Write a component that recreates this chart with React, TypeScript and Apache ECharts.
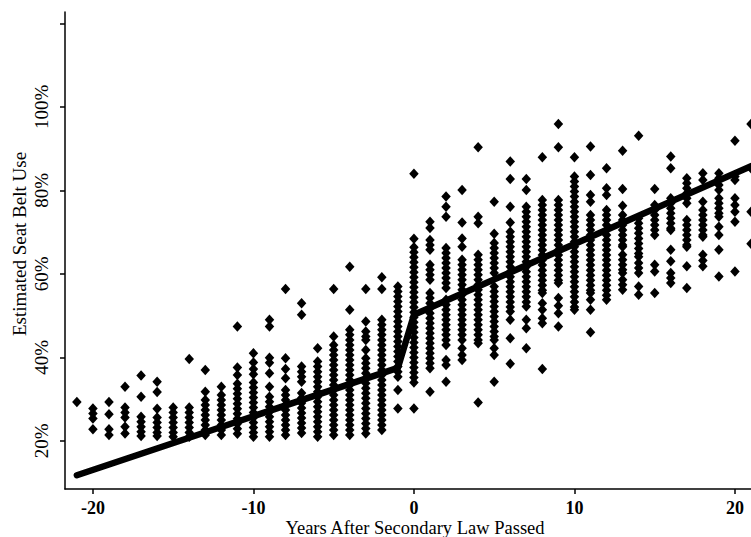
import React, { useEffect, useRef } from "react";
import * as echarts from "echarts";

const years = [-21, -20, -19, -18, -17, -16, -15, -14, -13, -12, -11, -10, -9, -8, -7, -6, -5, -4, -3, -2, -1, 0, 1, 2, 3, 4, 5, 6, 7, 8, 9, 10, 11, 12, 13, 14, 15, 16, 17, 18, 19, 20, 21];

const beltUse: number[][] = [
  [29.3],
  [27.8, 26.6, 25.4, 22.8],
  [29.3, 26.4, 22.8, 21.4],
  [33.0, 28.0, 26.8, 25.6, 23.4, 21.8],
  [35.7, 30.6, 25.8, 24.6, 23.4, 22.2, 21.2],
  [34.2, 31.7, 27.7, 25.6, 24.4, 23.2, 22.0, 21.2],
  [28.0, 26.8, 25.6, 24.4, 23.2, 22.0, 21.0],
  [39.6, 28.0, 26.8, 25.6, 24.4, 23.2, 22.0, 21.0],
  [37.0, 31.8, 29.8, 28.6, 27.4, 26.2, 25.0, 23.8, 22.6, 21.4],
  [33.0, 31.0, 29.8, 28.6, 27.4, 26.2, 25.0, 23.8, 22.6, 21.4],
  [47.4, 37.6, 35.8, 33.7, 32.5, 31.3, 30.1, 28.9, 27.7, 26.5, 25.3, 24.1, 22.9, 21.7],
  [41.0, 38.8, 37.2, 36.0, 34.0, 32.8, 31.6, 30.4, 29.2, 28.0, 26.8, 25.6, 24.4, 23.2, 22.0, 21.0],
  [49.0, 47.4, 39.9, 38.7, 36.2, 33.0, 30.6, 29.4, 28.2, 27.0, 25.8, 24.6, 23.4, 22.2, 21.0],
  [56.4, 39.8, 37.2, 35.0, 32.2, 31.0, 29.8, 28.6, 27.4, 26.2, 25.0, 23.8, 22.6, 21.4],
  [53.0, 50.2, 37.8, 36.6, 35.4, 34.2, 31.5, 30.3, 29.1, 27.9, 26.7, 25.5, 24.3, 23.1, 21.9],
  [42.2, 39.0, 37.8, 36.6, 35.4, 34.2, 33.0, 31.8, 30.6, 29.4, 28.2, 27.0, 25.8, 24.6, 23.4, 22.2, 21.0],
  [56.4, 45.0, 43.0, 41.8, 40.6, 39.4, 38.2, 37.0, 35.8, 34.6, 33.4, 32.2, 31.0, 29.8, 28.6, 27.4, 26.2, 25.0, 23.8, 22.6, 21.4],
  [61.7, 51.4, 46.6, 45.4, 44.2, 43.0, 41.8, 40.6, 39.4, 38.2, 37.0, 35.8, 34.6, 33.4, 32.2, 31.0, 29.8, 28.6, 27.4, 26.2, 25.0, 23.8, 22.6, 21.4],
  [56.4, 48.6, 46.2, 45.0, 44.2, 41.8, 39.8, 38.6, 37.4, 36.2, 35.0, 33.8, 32.6, 31.4, 30.2, 29.0, 27.8, 26.6, 25.4, 24.2, 23.0, 21.8],
  [59.2, 56.4, 49.0, 47.8, 46.6, 45.4, 44.2, 43.0, 41.8, 40.6, 39.4, 38.2, 37.0, 35.8, 34.6, 33.4, 32.2, 31.0, 29.8, 28.6, 27.4, 26.2, 25.0, 23.8, 22.6],
  [57.0, 55.8, 54.6, 53.4, 52.2, 51.0, 49.8, 48.6, 47.4, 46.2, 45.0, 43.8, 42.6, 41.4, 40.2, 39.0, 37.8, 36.6, 35.4, 32.2, 27.8],
  [84.0, 68.4, 66.4, 65.2, 64.0, 62.8, 61.6, 60.4, 59.2, 58.0, 56.8, 55.6, 54.4, 53.2, 52.0, 50.8, 49.6, 48.4, 47.2, 46.0, 44.8, 43.6, 42.4, 41.2, 40.0, 38.8, 37.6, 36.4, 35.2, 34.0, 27.8],
  [72.5, 71.0, 68.1, 66.9, 65.8, 62.2, 61.0, 59.8, 58.6, 55.4, 54.2, 53.0, 51.8, 50.6, 49.4, 48.2, 47.0, 45.8, 44.6, 43.4, 42.2, 41.0, 39.8, 38.6, 37.4, 31.8],
  [78.5, 76.1, 73.7, 66.2, 65.0, 63.8, 62.6, 61.4, 60.2, 59.0, 57.8, 56.6, 53.8, 52.6, 51.4, 50.2, 49.0, 47.8, 46.6, 45.4, 44.2, 43.0, 39.4, 38.2, 34.2],
  [80.1, 72.3, 68.5, 66.5, 63.4, 62.2, 61.0, 59.8, 58.6, 57.4, 56.2, 55.0, 53.8, 52.6, 51.4, 50.2, 49.0, 47.8, 46.6, 45.4, 44.2, 42.2, 40.6, 39.4],
  [90.3, 73.7, 72.1, 64.6, 63.4, 62.2, 61.0, 59.8, 58.6, 57.4, 56.2, 55.0, 53.8, 52.6, 51.4, 50.2, 49.0, 47.8, 46.6, 45.4, 44.2, 43.4, 29.2],
  [77.3, 69.6, 67.4, 66.2, 65.0, 63.8, 62.6, 61.4, 60.2, 57.0, 55.8, 54.6, 53.4, 52.2, 51.0, 49.8, 48.6, 47.4, 46.2, 45.0, 44.2, 42.2, 40.6, 34.2],
  [86.9, 82.7, 76.1, 72.3, 70.1, 68.9, 67.7, 66.5, 65.3, 64.1, 62.9, 61.7, 60.5, 59.3, 58.1, 56.9, 55.7, 54.5, 53.3, 52.1, 51.0, 49.0, 44.6, 38.5],
  [82.7, 80.1, 76.1, 74.9, 73.7, 72.5, 71.3, 70.1, 68.9, 67.7, 66.5, 65.3, 64.1, 62.9, 61.7, 60.5, 59.3, 58.1, 56.9, 55.7, 54.5, 53.3, 52.2, 49.0, 47.0, 42.2],
  [87.9, 77.7, 76.5, 75.3, 74.1, 72.9, 71.7, 70.5, 69.3, 68.1, 66.9, 65.7, 64.5, 63.3, 62.1, 60.9, 59.7, 58.5, 57.3, 56.1, 55.4, 53.0, 51.4, 49.4, 48.2, 37.2],
  [95.9, 90.3, 77.7, 76.5, 75.3, 74.1, 72.9, 71.7, 70.5, 69.3, 68.1, 66.9, 65.7, 64.5, 63.3, 62.1, 60.9, 59.7, 58.5, 57.8, 54.2, 52.4, 50.6, 47.4],
  [87.9, 83.3, 82.1, 80.9, 79.7, 78.5, 77.3, 76.1, 74.9, 73.7, 72.5, 71.3, 70.1, 68.9, 67.7, 66.5, 65.3, 64.1, 62.9, 61.7, 60.5, 59.3, 58.1, 56.9, 55.7, 54.5, 53.3, 52.1, 51.4],
  [90.5, 83.7, 78.9, 77.3, 74.1, 72.9, 71.7, 70.5, 69.3, 68.1, 66.9, 65.7, 64.5, 63.3, 62.1, 60.9, 59.7, 58.5, 57.3, 56.1, 55.4, 53.8, 51.4, 46.0],
  [85.3, 80.5, 78.9, 75.3, 74.1, 72.9, 71.7, 70.5, 69.3, 68.1, 66.9, 65.7, 64.5, 63.3, 62.1, 60.9, 59.7, 58.5, 57.3, 56.1, 54.9, 53.8],
  [89.5, 80.3, 76.3, 74.1, 72.9, 71.7, 70.5, 69.3, 68.1, 66.9, 66.5, 64.6, 63.4, 62.2, 61.0, 60.2, 58.6, 57.4, 56.2],
  [93.1, 73.3, 72.1, 70.9, 69.7, 68.5, 67.3, 66.1, 64.9, 64.1, 62.6, 61.4, 60.2, 57.0, 55.0],
  [80.3, 76.5, 75.3, 74.1, 72.9, 71.7, 70.5, 69.3, 62.2, 60.6, 55.4],
  [88.1, 85.3, 78.1, 76.9, 75.7, 74.5, 73.3, 72.1, 70.9, 70.5, 65.8, 63.0, 60.2, 59.0, 57.8],
  [82.9, 81.7, 80.5, 79.3, 78.1, 76.9, 72.9, 71.7, 70.5, 69.3, 68.1, 66.9, 66.5, 61.8, 56.6],
  [84.1, 82.5, 77.3, 75.3, 74.1, 72.9, 71.7, 70.5, 69.3, 68.9, 64.6, 63.2, 61.8],
  [84.1, 82.9, 81.3, 80.1, 78.1, 76.9, 75.7, 74.5, 73.7, 71.3, 69.3, 65.8, 59.4],
  [91.9, 83.3, 82.5, 78.1, 76.5, 74.9, 72.5, 60.6],
  [95.9, 85.3, 74.9, 67.2],
];

const fitX = [-21, -1, 0, 21];
const fitY = [11.8, 37.5, 50.2, 85.8];

const xTicks = [-20, -10, 0, 10, 20];
const yTicks = [20, 40, 60, 80, 100, 120];
const yLabels = [20, 40, 60, 80, 100];

const xTitle = "Years After Secondary Law Passed";
const yTitle = "Estimated Seat Belt Use";

const FONT = "'Liberation Serif', 'Times New Roman', serif";

export default function App() {
  const ref = useRef<HTMLDivElement>(null);
  useEffect(() => {
    if (!ref.current) return;
    const chart = echarts.init(ref.current, undefined, { renderer: "svg" });
    const scatterData: number[][] = [];
    years.forEach((yr, i) => {
      beltUse[i].forEach((v) => scatterData.push([yr, v]));
    });
    const lineData = fitX.map((x, i) => [x, fitY[i]]);
    chart.setOption({
      animation: false,
      backgroundColor: "#ffffff",
      grid: { left: 65, top: 12, right: 0, bottom: 48, containLabel: false },
      xAxis: {
        type: "value",
        min: -21.74,
        max: 21.0,
        splitLine: { show: false },
        axisLine: { show: true, onZero: false, lineStyle: { color: "#000", width: 1.5 } },
        axisTick: { show: true, length: 5, customValues: xTicks, lineStyle: { color: "#000", width: 1.5 } },
        axisLabel: {
          customValues: xTicks,
          color: "#000",
          fontFamily: FONT,
          fontSize: 18,
          fontWeight: "bold",
          margin: 10,
        },
      },
      yAxis: {
        type: "value",
        min: 8.5,
        max: 122.7,
        splitLine: { show: false },
        axisLine: { show: true, onZero: false, lineStyle: { color: "#000", width: 1.5 } },
        axisTick: { show: true, length: 5, customValues: yTicks, lineStyle: { color: "#000", width: 1.5 } },
        axisLabel: {
          customValues: yLabels,
          rotate: 90,
          color: "#000",
          fontFamily: FONT,
          fontSize: 19,
          margin: 14,
          formatter: (v: number) => `${v}%`,
        },
      },
      graphic: [
        {
          type: "text",
          x: 19,
          y: 244,
          rotation: Math.PI / 2,
          style: {
            text: yTitle,
            fill: "#000",
            font: `19px ${FONT}`,
            textAlign: "center",
            textVerticalAlign: "middle",
          },
        },
        {
          type: "text",
          x: 415,
          y: 537,
          style: {
            text: xTitle,
            fill: "#000",
            font: `18.5px ${FONT}`,
            textAlign: "center",
            textVerticalAlign: "bottom",
          },
        },
      ],
      series: [
        {
          type: "scatter",
          data: scatterData,
          symbol: "diamond",
          symbolSize: [9.5, 10.5],
          itemStyle: { color: "#000", opacity: 1 },
          clip: false,
          z: 2,
        },
        {
          type: "line",
          data: lineData,
          symbol: "none",
          lineStyle: { color: "#000", width: 6.5, cap: "round", join: "round" },
          z: 3,
        },
      ],
    });
    return () => chart.dispose();
  }, []);
  return <div ref={ref} style={{ position: "absolute", left: 0, top: 0, width: 751, height: 537 }} />;
}
